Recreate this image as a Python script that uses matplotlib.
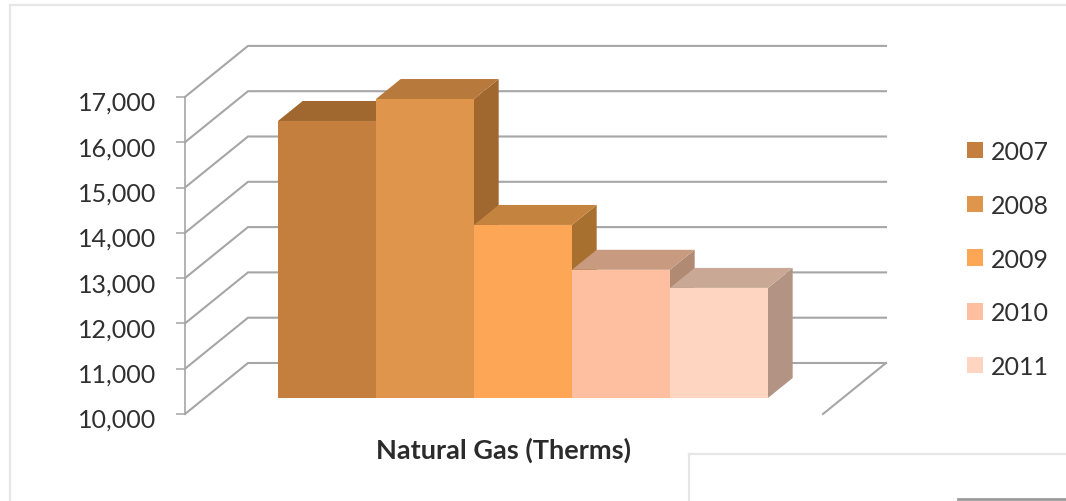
import matplotlib
matplotlib.use('Agg')
import matplotlib.pyplot as plt
from matplotlib.lines import Line2D
from matplotlib.patches import Patch, Polygon
from matplotlib.ticker import FuncFormatter
from matplotlib.transforms import ScaledTranslation

# Consumo anual de gas natural
years = ['2007', '2008', '2009', '2010', '2011']
therms = [16115, 16600, 13820, 12830, 12430]
y_ticks = [10000, 11000, 12000, 13000, 14000, 15000, 16000, 17000]

front_colors = ['#c47f3e', '#e0954c', '#fda656', '#fdbf9f', '#fdd5c0']
top_colors = ['#a0682f', '#b87a3c', '#c58340', '#c89a7f', '#c9a996']
side_colors = ['#8f5d2a', '#a0672e', '#a8702f', '#b08a72', '#b39484']

grid_color = '#a6a6a6'
text_color = '#303030'

W, H = 1066, 502
BAR_W = 98.0            # ancho de una barra en pixeles
THERM_H = 0.0453        # pixeles por therm
DEPTH_X = 63 / BAR_W    # desplazamiento de la profundidad total
DEPTH_V = 51 / THERM_H
BAR_D0 = 0.314          # donde empieza la barra en la profundidad
BAR_D1 = 0.706          # donde termina

plt.rcParams['font.family'] = ['Lato', 'DejaVu Sans']

fig = plt.figure(figsize=(W / 100, H / 100), dpi=100, facecolor='white')
ax = fig.add_axes([0, 0, 1, 1], facecolor='none')
ax.set_xlim(-258.2 / BAR_W, (W - 258.2) / BAR_W)
ax.set_ylim(10000 + (415 - H) / THERM_H, 10000 + 415 / THERM_H)

x_left = (185 - 258.2) / BAR_W
x_right = (823 - 258.2) / BAR_W


def project(x, v, d):
    # Proyeccion oblicua: la profundidad mueve a la derecha y hacia arriba
    return x + d * DEPTH_X, v + d * DEPTH_V


# Rejilla: pared lateral y pared del fondo
for v in y_ticks:
    pts = [project(x_left, v, 0), project(x_left, v, 1), project(x_right, v, 1)]
    ax.plot([p[0] for p in pts], [p[1] for p in pts], color=grid_color, lw=1.5,
            solid_joinstyle='miter', zorder=1)

# Borde derecho del suelo
pts = [project(x_right, y_ticks[0], 1), project(x_right, y_ticks[0], 0)]
ax.plot([p[0] for p in pts], [p[1] for p in pts], color=grid_color, lw=1.5, zorder=1)

# Barras, de la primera a la ultima para que se tapen bien
for i, v in enumerate(therms):
    base = y_ticks[0]
    front = [project(i, base, BAR_D0), project(i + 1, base, BAR_D0),
             project(i + 1, v, BAR_D0), project(i, v, BAR_D0)]
    top = [project(i, v, BAR_D0), project(i + 1, v, BAR_D0),
           project(i + 1, v, BAR_D1), project(i, v, BAR_D1)]
    side = [project(i + 1, base, BAR_D0), project(i + 1, base, BAR_D1),
            project(i + 1, v, BAR_D1), project(i + 1, v, BAR_D0)]
    z = 2 + i
    ax.add_patch(Polygon(side, closed=True, fc=side_colors[i], ec='none', zorder=z))
    ax.add_patch(Polygon(top, closed=True, fc=top_colors[i], ec='none', zorder=z))
    ax.add_patch(Polygon(front, closed=True, fc=front_colors[i], ec='none', zorder=z))

# Eje Y
for name in ['top', 'right', 'bottom']:
    ax.spines[name].set_visible(False)
ax.spines['left'].set_position(('data', x_left))
ax.spines['left'].set_bounds(y_ticks[0], y_ticks[-1])
ax.spines['left'].set_color(grid_color)
ax.spines['left'].set_linewidth(1.2)
ax.set_xticks([])
ax.set_yticks(y_ticks)
ax.yaxis.set_major_formatter(FuncFormatter(lambda v, pos: f'{int(v):,}'))
ax.tick_params(axis='y', direction='out', length=6.5, width=1.1, color=grid_color,
               pad=14, labelsize=18, labelcolor=text_color)

# Las etiquetas quedan un poco por debajo de su marca
shift = ScaledTranslation(0, -3.5 / 100, fig.dpi_scale_trans)
for lbl in ax.get_yticklabels():
    lbl.set_transform(lbl.get_transform() + shift)

# Titulo de categoria
ax.text(504 / W, 1 - 450 / H, 'Natural Gas (Therms)', transform=ax.transAxes, ha='center',
        va='center', fontsize=19.5, fontweight='bold', color='#2b2b2b')

# Leyenda
handles = [Patch(fc=c, ec='none', label=y) for c, y in zip(front_colors, years)]
ax.legend(handles=handles, loc='upper left', bbox_to_anchor=(962 / W, 1 - 136 / H), frameon=False,
          fontsize=18, labelcolor=text_color, handlelength=0.64, handleheight=0.64,
          handletextpad=0.32, labelspacing=1.23, borderpad=0.2, borderaxespad=0)

# Recuadros de la pagina
box = '#e6e6e6'
for xs, ys in [([10, 10], [H, 6]), ([10, W], [6, 6]),
               ([689, 689], [H, 455]), ([689, W], [455, 455])]:
    fig.add_artist(Line2D([x / W for x in xs], [1 - y / H for y in ys], color=box, lw=1.6))
fig.add_artist(Line2D([958 / W, 1], [1 - 499.5 / H, 1 - 499.5 / H], color='#9a9a9a', lw=2))

fig.savefig('out.png', dpi=100)
